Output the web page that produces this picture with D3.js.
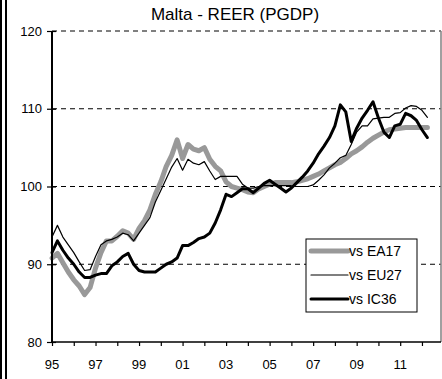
<!DOCTYPE html>
<html>
<head>
<meta charset="utf-8">
<script src="https://cdn.jsdelivr.net/npm/d3@7"></script>
<style>
  html, body { margin: 0; padding: 0; background: #fff; }
  svg { display: block; font-family: "Liberation Sans", Arial, sans-serif; }
</style>
</head>
<body>
<svg id="chart" width="442" height="379"></svg>
<script>
// Quarterly REER series, 1995Q1 .. 2012Q2
const startYear = 1995;
const ea17 = [
  90.8, 91.4, 90.2, 89.0,
  88.0, 87.2, 86.1, 87.0,
  89.5, 91.5, 93.0, 93.0,
  93.6, 94.3, 94.0, 93.2,
  94.6, 95.6, 97.0, 99.0,
  100.6, 102.6, 104.0, 106.0,
  103.6, 105.4, 104.8, 104.6,
  105.0, 103.5, 102.6, 102.0,
  100.6, 100.0, 99.8, 99.6,
  99.3, 99.2, 99.7, 100.0,
  100.3, 100.5, 100.5, 100.5,
  100.5, 100.6, 100.8, 101.0,
  101.3, 101.6, 102.0, 102.4,
  102.8, 103.1, 103.6, 104.2,
  104.6, 105.1, 105.7, 106.2,
  106.6, 107.0, 107.3, 107.4,
  107.5, 107.6, 107.6, 107.6,
  107.6, 107.6
];
const eu27 = [
  93.5, 95.0, 93.5, 92.5,
  91.5, 90.3, 89.2, 89.3,
  91.0, 92.5, 93.0, 93.2,
  93.5, 94.0, 93.8, 93.0,
  94.0, 95.0, 96.0, 98.0,
  99.5, 101.0, 102.5, 103.6,
  102.1, 103.5, 103.0, 102.8,
  103.2, 102.0, 100.9, 101.3,
  101.3, 101.3, 101.3, 100.3,
  99.8, 99.8, 100.0, 100.1,
  100.1, 100.1, 100.1, 100.1,
  100.1, 100.0, 100.0, 100.0,
  100.2, 100.8, 101.5, 102.4,
  103.0, 103.7, 104.0, 105.4,
  107.0, 107.8, 107.8, 108.7,
  108.8, 108.9, 108.9, 109.4,
  109.5, 110.1, 110.4, 110.3,
  109.8, 108.9
];
const ic36 = [
  91.5, 93.0, 91.8, 90.8,
  90.0, 89.0, 88.3, 88.3,
  88.6, 88.8, 88.8, 89.8,
  90.3, 91.0, 91.4, 90.0,
  89.2, 89.0, 89.0, 89.0,
  89.5, 90.0, 90.3, 90.8,
  92.4, 92.4, 92.8, 93.3,
  93.5, 94.0, 95.3, 97.0,
  99.0, 98.7, 99.2, 99.7,
  99.7, 99.2, 99.8, 100.4,
  100.8, 100.3, 99.8, 99.3,
  99.8, 100.5, 101.2, 102.0,
  103.0, 104.2, 105.2, 106.3,
  107.8, 110.5, 109.6, 105.8,
  107.5, 108.8, 109.8, 110.9,
  108.8, 107.0, 106.3, 107.8,
  108.0, 109.4, 109.1, 108.5,
  107.3, 106.3
];
const seriesNames = ["vs EA17", "vs EU27", "vs IC36"];
const yTicks = [80, 90, 100, 110, 120];
const yearTicks = d3.range(1995, 2013);
const yearLabels = [1995, 1997, 1999, 2001, 2003, 2005, 2007, 2009, 2011];

const svg = d3.select("#chart");
const plot = { left: 52, right: 441, top: 31, bottom: 342 };

const x = d3.scaleLinear().domain([1995, 2012.875]).range([plot.left, plot.right]);
const y = d3.scaleLinear().domain([80, 120]).range([plot.bottom, plot.top]);

// double rule on the left edge of the frame
svg.append("rect").attr("x", 0).attr("y", 0).attr("width", 2).attr("height", 379).attr("fill", "#000");
svg.append("rect").attr("x", 5).attr("y", 0).attr("width", 2).attr("height", 379).attr("fill", "#000");

// title
svg.append("text")
  .attr("x", 235).attr("y", 20)
  .attr("text-anchor", "middle")
  .attr("font-size", 17)
  .text("Malta - REER (PGDP)");

// dashed gridlines (incl. the top edge at 120)
svg.append("g").selectAll("line")
  .data(yTicks.filter(d => d > 80))
  .join("line")
  .attr("x1", plot.left).attr("x2", plot.right)
  .attr("y1", d => y(d)).attr("y2", d => y(d))
  .attr("stroke", "#000").attr("stroke-width", 1)
  .attr("stroke-dasharray", "5,4");

// right edge
svg.append("line")
  .attr("x1", plot.right).attr("x2", plot.right)
  .attr("y1", plot.top).attr("y2", plot.bottom)
  .attr("stroke", "#808080").attr("stroke-width", 1.5);

// series
const quarters = d => startYear + d * 0.25;
const line = d3.line().x((d, i) => x(quarters(i))).y(d => y(d));
const styles = [
  { data: ea17, color: "#999999", width: 5 },
  { data: eu27, color: "#000000", width: 1.2 },
  { data: ic36, color: "#000000", width: 3 }
];
svg.append("g").selectAll("path")
  .data(styles)
  .join("path")
  .attr("d", s => line(s.data))
  .attr("fill", "none")
  .attr("stroke", s => s.color)
  .attr("stroke-width", s => s.width)
  .attr("stroke-linejoin", "round")
  .attr("stroke-linecap", "round");

// y axis
const yAxis = svg.append("g")
  .attr("transform", `translate(${plot.left},0)`)
  .call(d3.axisLeft(y).tickValues(yTicks).tickSize(4).tickPadding(6).tickFormat(d3.format("d")));
yAxis.select(".domain").remove();
yAxis.selectAll(".tick line").attr("x2", 4).attr("x1", -5).attr("stroke-width", 1.2);
yAxis.selectAll("text").attr("font-size", 13).attr("font-family", "Liberation Sans, Arial, sans-serif");
svg.append("line")
  .attr("x1", plot.left).attr("x2", plot.left)
  .attr("y1", plot.top).attr("y2", plot.bottom)
  .attr("stroke", "#000").attr("stroke-width", 2);

// x axis
const xAxis = svg.append("g")
  .attr("transform", `translate(0,${plot.bottom})`)
  .call(d3.axisBottom(x).tickValues(yearTicks).tickSize(4).tickFormat(""));
xAxis.select(".domain").remove();
xAxis.selectAll(".tick line").attr("stroke-width", 1.2);
svg.append("line")
  .attr("x1", plot.left).attr("x2", plot.right)
  .attr("y1", plot.bottom).attr("y2", plot.bottom)
  .attr("stroke", "#000").attr("stroke-width", 1.5);
svg.append("g").selectAll("text")
  .data(yearLabels)
  .join("text")
  .attr("x", d => x(d))
  .attr("y", 369)
  .attr("text-anchor", "middle")
  .attr("font-size", 13)
  .text(d => String(d % 100).padStart(2, "0"));

// legend
const lg = svg.append("g").attr("transform", "translate(306,239)");
lg.append("rect").attr("width", 111).attr("height", 73)
  .attr("fill", "#fff").attr("stroke", "#000").attr("stroke-width", 1);
const rows = lg.selectAll("g.row").data(styles).join("g")
  .attr("class", "row")
  .attr("transform", (d, i) => `translate(0,${12 + i * 24})`);
rows.append("line")
  .attr("x1", 5).attr("x2", 42).attr("y1", 0).attr("y2", 0)
  .attr("stroke", s => s.color).attr("stroke-width", s => s.width)
  .attr("stroke-linecap", "round");
rows.append("text")
  .attr("x", 43).attr("y", 5)
  .attr("font-size", 14)
  .text((d, i) => seriesNames[i]);
</script>
</body>
</html>
